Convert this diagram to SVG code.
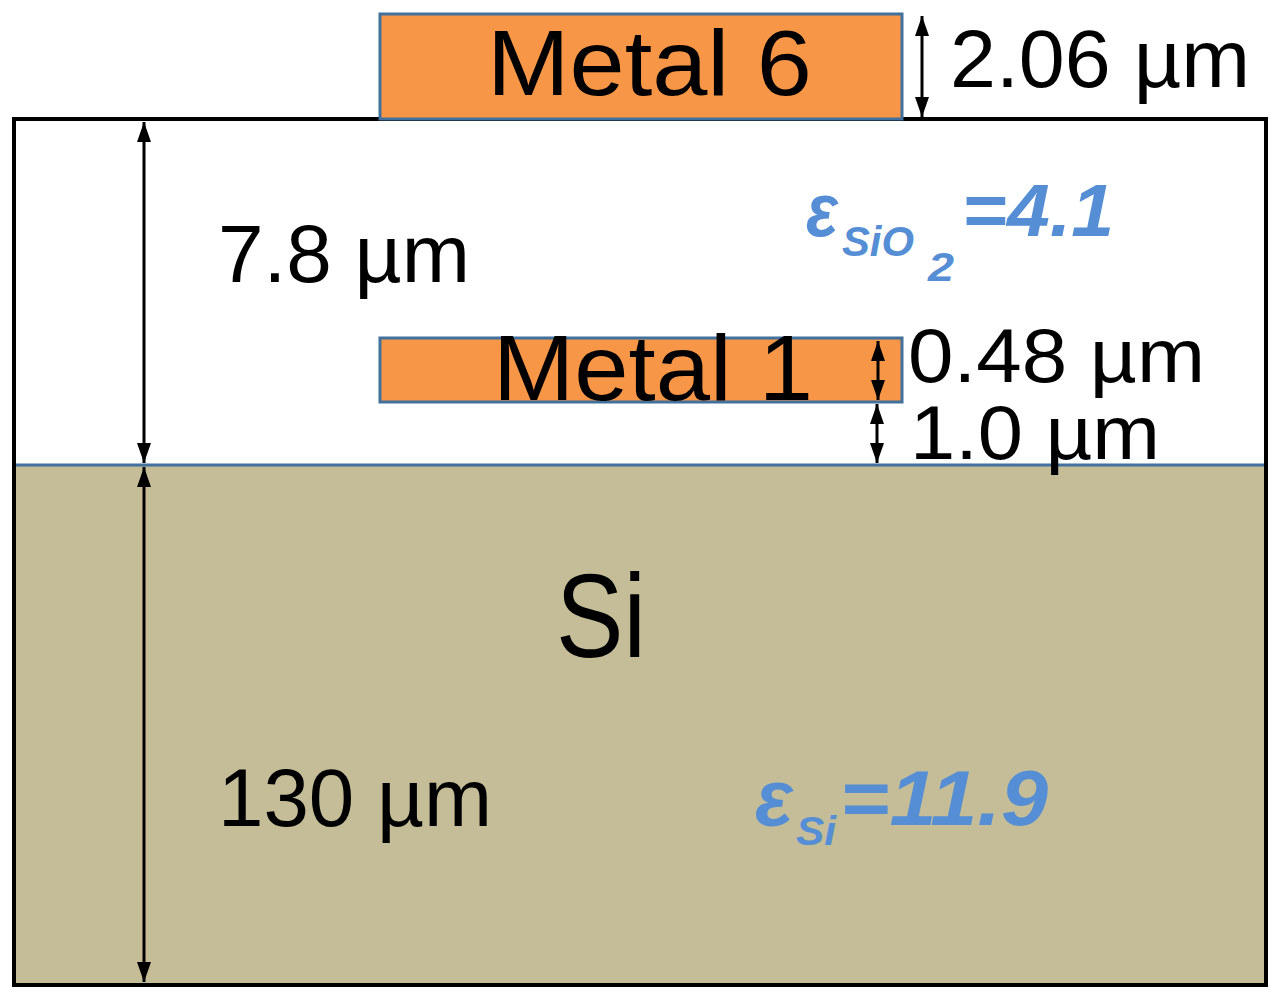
<svg xmlns="http://www.w3.org/2000/svg" width="1280" height="1006" viewBox="0 0 1280 1006">
<defs>
<marker id="ah" viewBox="0 0 20 14" refX="20" refY="7" markerWidth="20" markerHeight="14" markerUnits="userSpaceOnUse" orient="auto-start-reverse">
<path d="M0,0 L20,7 L0,14 Z" fill="#000"/>
</marker>
<style>
.lbl{font-family:"Liberation Sans",Arial,sans-serif;fill:#000;}
.eps{font-family:"Liberation Sans",Arial,sans-serif;fill:#558ED5;font-weight:bold;font-style:italic;}
.metal{fill:#F79646;stroke:#41719C;stroke-width:3;}
.dim{stroke:#000;stroke-width:3;fill:none;marker-start:url(#ah);marker-end:url(#ah);}
</style>
</defs>
<rect width="1280" height="1006" fill="#fff"/>
<g id="sio2">
<rect x="14" y="119" width="1252" height="346" fill="#fff"/>
</g>
<g id="si">
<rect x="14" y="465" width="1252" height="520" fill="#C4BD97" stroke="#41719C" stroke-width="3"/>
<text class="lbl" x="556" y="657" font-size="118" textLength="90" lengthAdjust="spacingAndGlyphs">Si</text>
</g>
<rect id="outline" x="14" y="119" width="1252" height="866" fill="none" stroke="#000" stroke-width="4"/>
<g id="metal6">
<rect class="metal" x="380" y="14" width="522" height="105"/>
<text class="lbl" x="487" y="95" font-size="93" textLength="325" lengthAdjust="spacingAndGlyphs">Metal 6</text>
</g>
<g id="metal1">
<rect class="metal" x="380" y="338" width="522" height="64"/>
<text class="lbl" x="493" y="400" font-size="93" textLength="320" lengthAdjust="spacingAndGlyphs">Metal 1</text>
</g>
<g id="connectors">
<line class="dim" x1="922" y1="16" x2="922" y2="117"/>
<line class="dim" x1="144" y1="122" x2="144" y2="463"/>
<line class="dim" x1="144" y1="467" x2="144" y2="982"/>
<line class="dim" x1="878" y1="341" x2="878" y2="400"/>
<line class="dim" x1="877" y1="404" x2="877" y2="463"/>
</g>
<g id="labels">
<text class="lbl" x="950" y="87" font-size="82" textLength="300" lengthAdjust="spacingAndGlyphs">2.06 µm</text>
<text class="lbl" x="218" y="282" font-size="82" textLength="252" lengthAdjust="spacingAndGlyphs">7.8 µm</text>
<text class="lbl" x="908" y="382" font-size="76" textLength="297" lengthAdjust="spacingAndGlyphs">0.48 µm</text>
<text class="lbl" x="910" y="459" font-size="76" textLength="250" lengthAdjust="spacingAndGlyphs">1.0 µm</text>
<text class="lbl" x="218" y="826" font-size="82" textLength="274" lengthAdjust="spacingAndGlyphs">130 µm</text>
</g>
<g id="eps-sio2">
<text class="eps" x="806" y="236" font-size="76" textLength="32" lengthAdjust="spacingAndGlyphs">ε</text>
<text class="eps" x="842" y="256" font-size="42" textLength="72" lengthAdjust="spacingAndGlyphs">SiO</text>
<text class="eps" x="928" y="281" font-size="40" textLength="26" lengthAdjust="spacingAndGlyphs">2</text>
<text class="eps" x="962" y="236" font-size="74" textLength="152" lengthAdjust="spacingAndGlyphs">=4.1</text>
</g>
<g id="eps-si">
<text class="eps" x="755" y="825" font-size="80" textLength="38" lengthAdjust="spacingAndGlyphs">ε</text>
<text class="eps" x="796" y="845" font-size="40" textLength="40" lengthAdjust="spacingAndGlyphs">Si</text>
<text class="eps" x="840" y="825" font-size="77" textLength="208" lengthAdjust="spacingAndGlyphs">=11.9</text>
</g>
</svg>
